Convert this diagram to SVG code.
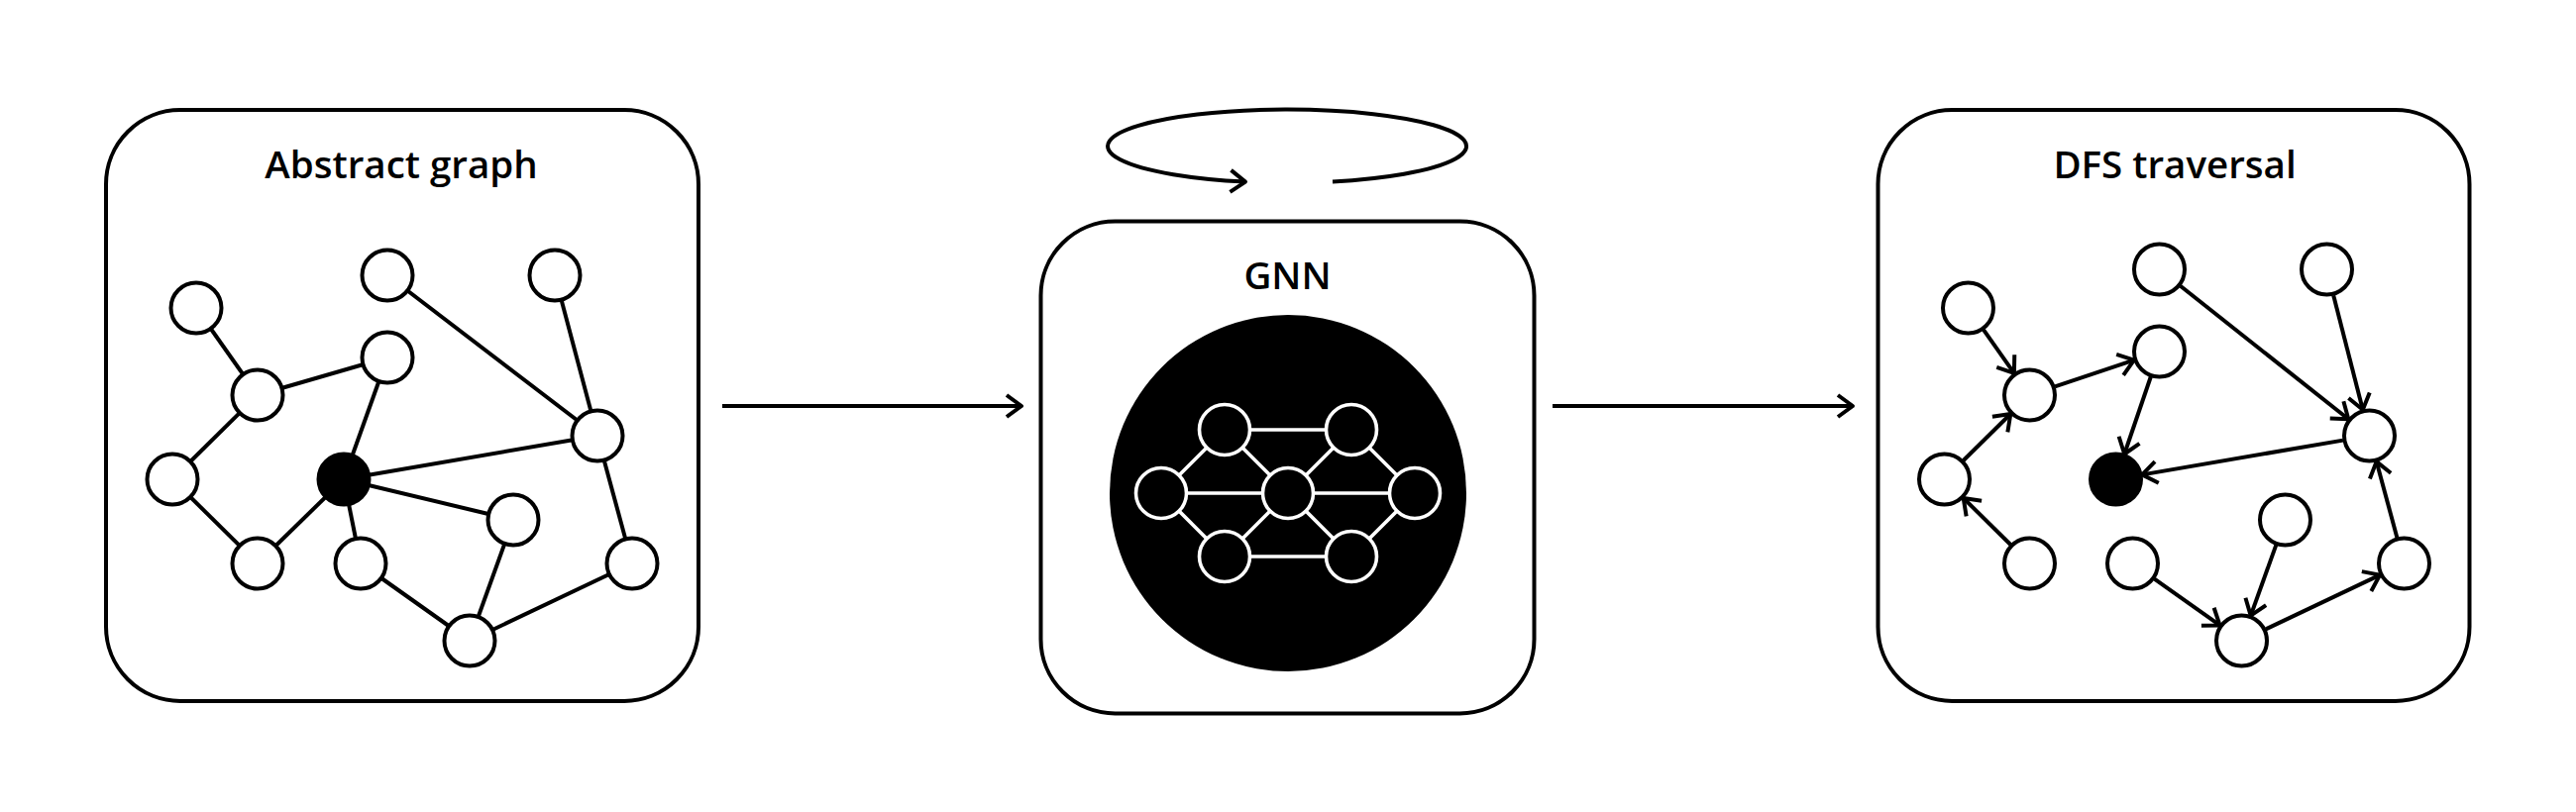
<svg xmlns="http://www.w3.org/2000/svg" width="2600" height="820" viewBox="0 0 2600 820">
<style>
.box{fill:#fff;stroke:#000;stroke-width:4}
.n{fill:#fff;stroke:#000;stroke-width:4}
.nb{fill:#000;stroke:#000;stroke-width:4}
.e{stroke:#000;stroke-width:4;fill:none}
.a{stroke:#000;stroke-width:4;fill:none;marker-end:url(#ah)}
.we{stroke:#fff;stroke-width:3.6;fill:none}
.wn{fill:#000;stroke:#fff;stroke-width:3.6}
.t{font-family:"Open Sans","Noto Sans",sans-serif;font-weight:600;font-size:38.5px;text-anchor:middle;fill:#000}
</style>
<defs>
<marker id="ah" markerUnits="userSpaceOnUse" markerWidth="40" markerHeight="40" viewBox="-20 -20 40 40" refX="0" refY="0" orient="auto" overflow="visible">
<path d="M-15,-11 L0,0 L-15,11" fill="none" stroke="#000" stroke-width="4" stroke-linejoin="round" stroke-linecap="butt"/>
</marker>
</defs>
<rect width="2600" height="820" fill="#fff"/>

<g id="panel-abstract">
<rect class="box" x="107" y="111" width="598" height="597" rx="75" ry="75"/>
<text class="t" x="405" y="179.5">Abstract graph</text>
</g>
<g id="panel-gnn">
<rect class="box" x="1050.5" y="223.5" width="498" height="497" rx="75" ry="75"/>
<text class="t" x="1299.5" y="292">GNN</text>
<circle cx="1300" cy="498" r="180" fill="#000"/>
</g>
<g id="panel-dfs">
<rect class="box" x="1895.5" y="111" width="597" height="597" rx="75" ry="75"/>
<text class="t" x="2195" y="179.5">DFS traversal</text>
</g>

<g id="connectors">
<line class="e" x1="198" y1="311" x2="260" y2="399"/>
<line class="e" x1="260" y1="399" x2="391" y2="361"/>
<line class="e" x1="260" y1="399" x2="174" y2="484"/>
<line class="e" x1="174" y1="484" x2="260" y2="569"/>
<line class="e" x1="260" y1="569" x2="347" y2="484"/>
<line class="e" x1="347" y1="484" x2="391" y2="361"/>
<line class="e" x1="347" y1="484" x2="603" y2="440"/>
<line class="e" x1="347" y1="484" x2="518" y2="525"/>
<line class="e" x1="347" y1="484" x2="364" y2="569"/>
<line class="e" x1="391" y1="278" x2="603" y2="440"/>
<line class="e" x1="560" y1="278" x2="603" y2="440"/>
<line class="e" x1="603" y1="440" x2="638" y2="569"/>
<line class="e" x1="364" y1="569" x2="474" y2="647"/>
<line class="e" x1="518" y1="525" x2="474" y2="647"/>
<line class="e" x1="474" y1="647" x2="638" y2="569"/>
<line class="we" x1="1236" y1="434" x2="1364" y2="434"/>
<line class="we" x1="1236" y1="562" x2="1364" y2="562"/>
<line class="we" x1="1172" y1="498" x2="1428" y2="498"/>
<line class="we" x1="1236" y1="434" x2="1172" y2="498"/>
<line class="we" x1="1236" y1="434" x2="1300" y2="498"/>
<line class="we" x1="1364" y1="434" x2="1300" y2="498"/>
<line class="we" x1="1364" y1="434" x2="1428" y2="498"/>
<line class="we" x1="1172" y1="498" x2="1236" y2="562"/>
<line class="we" x1="1300" y1="498" x2="1236" y2="562"/>
<line class="we" x1="1300" y1="498" x2="1364" y2="562"/>
<line class="we" x1="1428" y1="498" x2="1364" y2="562"/>
<line class="a" x1="729" y1="410" x2="1031" y2="410"/>
<line class="a" x1="1567" y1="410" x2="1870" y2="410"/>
<path class="a" d="M1345,183.4 A181,37 0 1 0 1257,183.6"/>
<line class="a" x1="2002.1" y1="333.1" x2="2032.9" y2="376.9"/>
<line class="a" x1="2074.1" y1="390.4" x2="2153.9" y2="363.6"/>
<line class="a" x1="2170.8" y1="380.5" x2="2144.2" y2="458.5"/>
<line class="a" x1="1981.7" y1="465" x2="2029.3" y2="418"/>
<line class="a" x1="2029.3" y1="550" x2="1981.7" y2="503"/>
<line class="a" x1="2200.7" y1="288.8" x2="2370.3" y2="423.2"/>
<line class="a" x1="2355.2" y1="298.2" x2="2384.8" y2="413.8"/>
<line class="a" x1="2364.9" y1="444.6" x2="2162.1" y2="479.4"/>
<line class="a" x1="2174.5" y1="584.6" x2="2240.5" y2="631.4"/>
<line class="a" x1="2297.3" y1="550.4" x2="2271.7" y2="621.6"/>
<line class="a" x1="2286.9" y1="635.4" x2="2402.1" y2="580.6"/>
<line class="a" x1="2419.4" y1="542.9" x2="2398.6" y2="466.1"/>
</g>

<g id="nodes-abstract">
<circle id="a1" class="n" cx="198" cy="311" r="25.5"/>
<circle id="a2" class="n" cx="391" cy="278" r="25.5"/>
<circle id="a3" class="n" cx="560" cy="278" r="25.5"/>
<circle id="a4" class="n" cx="391" cy="361" r="25.5"/>
<circle id="a5" class="n" cx="260" cy="399" r="25.5"/>
<circle id="a6" class="n" cx="174" cy="484" r="25.5"/>
<circle id="a7" class="nb" cx="347" cy="484" r="25.5"/>
<circle id="a8" class="n" cx="603" cy="440" r="25.5"/>
<circle id="a9" class="n" cx="518" cy="525" r="25.5"/>
<circle id="a10" class="n" cx="260" cy="569" r="25.5"/>
<circle id="a11" class="n" cx="364" cy="569" r="25.5"/>
<circle id="a12" class="n" cx="638" cy="569" r="25.5"/>
<circle id="a13" class="n" cx="474" cy="647" r="25.5"/>
</g>

<g id="nodes-gnn">
<circle id="g1" class="wn" cx="1236" cy="434" r="25.5"/>
<circle id="g2" class="wn" cx="1364" cy="434" r="25.5"/>
<circle id="g3" class="wn" cx="1172" cy="498" r="25.5"/>
<circle id="g4" class="wn" cx="1300" cy="498" r="25.5"/>
<circle id="g5" class="wn" cx="1428" cy="498" r="25.5"/>
<circle id="g6" class="wn" cx="1236" cy="562" r="25.5"/>
<circle id="g7" class="wn" cx="1364" cy="562" r="25.5"/>
</g>

<g id="nodes-dfs">
<circle id="d1" class="n" cx="1986.5" cy="311" r="25.5"/>
<circle id="d2" class="n" cx="2179.5" cy="272" r="25.5"/>
<circle id="d3" class="n" cx="2348.5" cy="272" r="25.5"/>
<circle id="d4" class="n" cx="2179.5" cy="355" r="25.5"/>
<circle id="d5" class="n" cx="2048.5" cy="399" r="25.5"/>
<circle id="d6" class="n" cx="1962.5" cy="484" r="25.5"/>
<circle id="d7" class="nb" cx="2135.5" cy="484" r="25.5"/>
<circle id="d8" class="n" cx="2391.5" cy="440" r="25.5"/>
<circle id="d9" class="n" cx="2306.5" cy="525" r="25.5"/>
<circle id="d10" class="n" cx="2048.5" cy="569" r="25.5"/>
<circle id="d11" class="n" cx="2152.5" cy="569" r="25.5"/>
<circle id="d12" class="n" cx="2426.5" cy="569" r="25.5"/>
<circle id="d13" class="n" cx="2262.5" cy="647" r="25.5"/>
</g>
</svg>
